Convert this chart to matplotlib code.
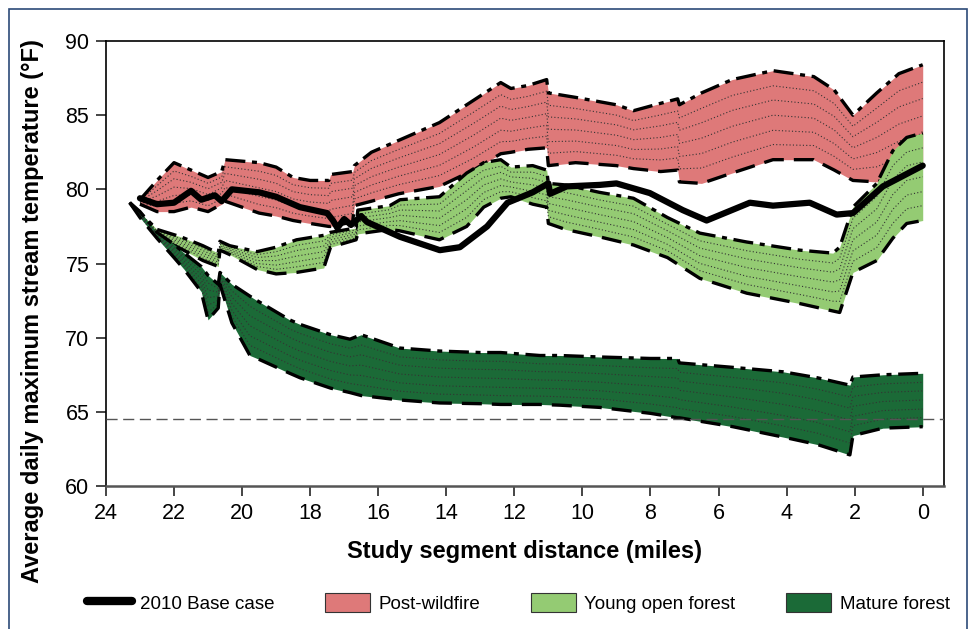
import numpy as np
import matplotlib
matplotlib.use("Agg")
import matplotlib.pyplot as plt
from matplotlib.lines import Line2D
from matplotlib.patches import Patch, Rectangle

plt.rcParams['font.family'] = ['Liberation Sans', 'DejaVu Sans']

# --- data (distance in miles, temperature in deg F) ---
post_d = [23.0, 22.5, 22.0, 21.5, 21.0, 20.6, 20.5, 20.0, 19.5, 19.0, 18.5, 18.0, 17.45, 17.4,
          16.75, 16.7, 16.2, 15.4, 14.2, 13.2, 12.4, 12.1, 11.6, 11.05, 11.0, 10.2, 9.0, 8.5,
          7.7, 7.2, 7.15, 6.5, 5.6, 4.4, 3.2, 2.6, 2.05, 1.35, 0.7, 0.0]
post_hi = [79.3, 80.6, 81.8, 81.3, 80.8, 81.2, 82.0, 81.9, 81.8, 81.5, 80.8, 80.6, 80.6, 81.0,
           81.2, 81.6, 82.5, 83.3, 84.5, 86.0, 87.2, 86.8, 87.0, 87.4, 86.5, 86.2, 85.7, 85.3,
           85.8, 86.1, 85.7, 86.5, 87.4, 88.0, 87.6, 86.7, 85.0, 86.5, 87.8, 88.4]
post_lo = [79.0, 78.5, 78.5, 78.8, 78.5, 79.0, 79.2, 78.8, 78.4, 78.2, 77.9, 77.7, 77.5, 77.5,
           77.8, 78.9, 79.2, 79.7, 80.2, 81.3, 82.4, 82.5, 82.7, 82.8, 81.6, 81.8, 81.6, 81.4,
           81.2, 81.3, 80.5, 80.4, 81.1, 82.0, 82.0, 81.3, 80.6, 80.5, 81.0, 81.5]

young_d = [23.3, 22.5, 21.8, 21.15, 20.7, 20.65, 20.36, 19.56, 19.0, 18.4, 17.6, 17.4, 16.65,
           16.6, 15.66, 15.36, 14.2, 13.4, 12.9, 12.4, 12.1, 11.46, 11.05, 11.0, 10.5, 9.5,
           8.5, 7.5, 6.55, 5.17, 3.61, 2.64, 2.44, 2.05, 1.35, 0.88, 0.47, 0.0]
young_hi = [79.1, 77.3, 76.8, 76.2, 75.7, 76.5, 76.2, 75.8, 76.1, 76.6, 76.9, 77.1, 77.4,
            78.6, 78.9, 79.3, 79.5, 81.1, 81.8, 82.0, 81.5, 81.6, 81.3, 80.4, 80.3, 79.8,
            79.4, 78.1, 77.05, 76.45, 75.9, 75.7, 76.1, 78.8, 80.4, 82.6, 83.5, 83.8]
young_lo = [79.1, 76.8, 76.0, 75.2, 74.8, 75.9, 75.6, 74.6, 74.3, 74.4, 74.7, 76.1, 76.6,
            77.0, 77.3, 77.2, 76.6, 77.5, 78.8, 79.4, 79.5, 79.0, 78.8, 77.7, 77.3, 76.8,
            76.25, 75.4, 74.0, 73.0, 72.3, 71.8, 71.7, 74.4, 75.2, 76.7, 77.7, 77.9]

mature_d = [23.3, 23.0, 22.5, 22.0, 21.7, 21.2, 21.0, 20.7, 20.65, 20.3, 19.77, 19.56, 18.6,
            18.3, 17.4, 16.83, 16.5, 15.36, 14.2, 13.0, 12.4, 11.25, 10.66, 9.49, 8.0, 7.2,
            7.15, 5.58, 4.1, 3.1, 2.14, 2.05, 1.17, 0.0]
mature_hi = [79.1, 78.5, 77.1, 76.3, 75.7, 74.8, 74.2, 73.6, 74.4, 73.6, 72.8, 72.5, 71.2,
             70.9, 70.2, 69.9, 70.2, 69.3, 69.1, 69.0, 69.0, 68.8, 68.8, 68.7, 68.6, 68.6,
             68.3, 68.0, 67.7, 67.3, 66.8, 67.35, 67.5, 67.6]
mature_lo = [79.1, 78.1, 76.7, 75.4, 74.6, 73.1, 71.2, 72.0, 73.6, 71.0, 68.8, 68.6, 67.6,
             67.3, 66.6, 66.3, 66.1, 65.8, 65.6, 65.55, 65.5, 65.5, 65.45, 65.3, 64.9, 64.6,
             64.6, 64.0, 63.3, 62.8, 62.1, 63.4, 63.9, 64.0]

base_d = [23.0, 22.5, 22.0, 21.5, 21.2, 20.8, 20.6, 20.3, 19.5, 19.0, 18.3, 17.5, 17.33, 17.2,
          17.0, 16.8, 16.5, 16.33, 15.36, 14.19, 13.6, 12.8, 12.2, 11.46, 11.0, 10.95, 10.46,
          9.49, 9.0, 8.02, 7.05, 6.35, 5.08, 4.4, 3.32, 2.53, 2.05, 1.17, 0.0]
base_t = [79.4, 79.0, 79.1, 79.9, 79.3, 79.6, 79.2, 80.0, 79.8, 79.5, 78.8, 78.4, 77.9, 77.4,
          78.0, 77.6, 78.2, 77.8, 76.8, 75.9, 76.1, 77.5, 79.1, 79.8, 80.4, 79.7, 80.2,
          80.3, 80.4, 79.75, 78.6, 77.9, 79.1, 78.9, 79.1, 78.3, 78.4, 80.2, 81.6]

criterion = 64.5
inner_frac = [0.17, 0.33, 0.5, 0.67, 0.83]

fig = plt.figure(figsize=(9.72, 6.29), dpi=100)
ax = fig.add_axes([0.109, 0.2273, 0.862, 0.7075])


def band(d, hi, lo, color, z):
    d, hi, lo = np.array(d), np.array(hi), np.array(lo)
    ax.fill_between(d, lo, hi, color=color, lw=0, zorder=z)
    for f in inner_frac:
        ax.plot(d, lo + f * (hi - lo), color='#333333', lw=0.8, ls=(0, (1, 2)), zorder=z + 0.1)
    ax.plot(d, hi, color='black', lw=2.4, ls=(0, (6, 2, 1.5, 2)), zorder=z + 0.2)
    ax.plot(d, lo, color='black', lw=2.4, ls=(0, (6, 3)), zorder=z + 0.2)


band(post_d, post_hi, post_lo, '#DE7979', 2)
band(young_d, young_hi, young_lo, '#94CB73', 3)
band(mature_d, mature_hi, mature_lo, '#1B6A37', 4)

ax.axhline(criterion, color='#555555', lw=1, ls=(0, (8, 4)), zorder=6)
ax.plot(base_d, base_t, color='black', lw=4.5, solid_capstyle='round', zorder=7)

ax.set_xlim(24, -0.62)
ax.set_ylim(60, 90)
ax.set_xticks(range(24, -1, -2))
ax.set_yticks(range(60, 91, 5))
ax.tick_params(direction='out', length=7, width=1.4, labelsize=15.5, color='#444444', pad=5)
ax.spines['bottom'].set_color('#555555')
ax.spines['bottom'].set_linewidth(1.8)
for s in ['left', 'top', 'right']:
    ax.spines[s].set_linewidth(1.2)

ax.set_xlabel('Study segment distance (miles)', fontsize=17, fontweight='bold', labelpad=12)
ax.set_ylabel('Average daily maximum stream temperature (°F)', fontsize=17, fontweight='bold')
ax.yaxis.set_label_coords(-0.074, 0.393)

handles = [
    Line2D([0], [0], color='black', lw=6, solid_capstyle='round'),
    Patch(facecolor='#DE7979', edgecolor='#333333', lw=0.8),
    Patch(facecolor='#94CB73', edgecolor='#333333', lw=0.8),
    Patch(facecolor='#1B6A37', edgecolor='#333333', lw=0.8),
]
labels = ['2010 Base case', 'Post-wildfire', 'Young open forest', 'Mature forest']
fig.legend(handles, labels, loc='center', bbox_to_anchor=(0.533, 0.041), ncol=4,
           frameon=False, fontsize=13.5, handlelength=2.4, handleheight=1.2,
           columnspacing=2.7, handletextpad=0.45)

fig.patches.append(Rectangle((0.0093, -0.02), 0.9856, 1.0057, transform=fig.transFigure,
                             fill=False, edgecolor='#2C4A78', lw=1.2))

fig.savefig('out.png', dpi=100)
